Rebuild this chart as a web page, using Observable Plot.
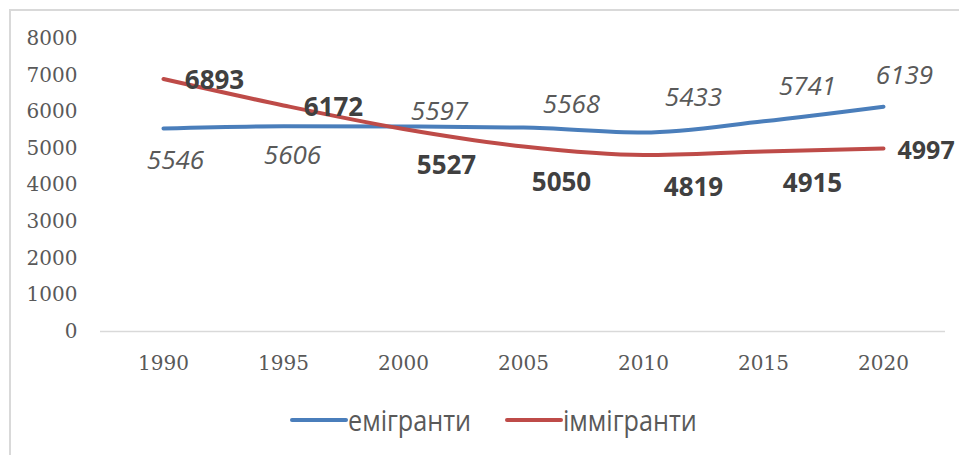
<!DOCTYPE html>
<html><head><meta charset="utf-8">
<script src="https://cdn.jsdelivr.net/npm/d3@7"></script>
<script src="https://cdn.jsdelivr.net/npm/@observablehq/plot@0.6"></script>
<style>
body{margin:0;background:#fff;width:959px;height:455px;overflow:hidden;position:relative}
#frame{position:absolute;left:9px;top:9px;width:2000px;height:2000px;border-left:2px solid #d9d9d9;border-top:2px solid #d9d9d9}
#chart{position:absolute;left:0;top:0}
#legend{position:absolute;top:400px;left:0;width:959px;height:40px}
.item{position:absolute;top:0;height:40px;display:flex;align-items:center}
.item span{font-family:"Open Sans",sans-serif;font-size:30px;color:#595959;display:inline-block;transform:scaleX(0.84);transform-origin:left center;white-space:nowrap;line-height:40px}
</style></head><body>
<div id="frame"></div>
<div id="chart"></div>
<div id="legend"></div>
<script>
const years = [1990, 1995, 2000, 2005, 2010, 2015, 2020];
const emigrants = [5546, 5606, 5597, 5568, 5433, 5741, 6139];
const immigrants = [6893, 6172, 5527, 5050, 4819, 4915, 4997];
const seriesNames = ["емігранти", "іммігранти"];
const yTicks = [0, 1000, 2000, 3000, 4000, 5000, 6000, 7000, 8000];

// label placement (styling only): [dx, dy, anchor]
const emigrantLabelOffsets = [[12,32],[9,29],[36,-15],[48,-23],[50,-35],[44,-35],[21,-31]];
const immigrantLabelOffsets = [[51,2],[50,2],[43,37],[38,36],[50,33],[49,32],[14,3,"start"]];
const colors = ["#4a7ebb", "#be4b48"];

const rows = [
  ...years.map((y, i) => ({year: y, value: emigrants[i], series: seriesNames[0]})),
  ...years.map((y, i) => ({year: y, value: immigrants[i], series: seriesNames[1]}))
];

const labelMarks = [];
years.forEach((y, i) => {
  const [dx, dy, anchor] = emigrantLabelOffsets[i];
  labelMarks.push(Plot.text([{year: y, value: emigrants[i]}], {
    x: "year", y: "value", text: d => String(d.value), dx, dy,
    textAnchor: anchor || "middle", fontFamily: "Open Sans", fontSize: 26,
    fontStyle: "italic", fill: "#595959"
  }));
});
years.forEach((y, i) => {
  const [dx, dy, anchor] = immigrantLabelOffsets[i];
  labelMarks.push(Plot.text([{year: y, value: immigrants[i]}], {
    x: "year", y: "value", text: d => String(d.value), dx, dy,
    textAnchor: anchor || "middle", fontFamily: "Open Sans", fontSize: i === 6 ? 25 : 26,
    fontWeight: "bold", fill: "#404040"
  }));
});

const chart = Plot.plot({
  width: 959, height: 385,
  marginTop: 38, marginBottom: 54, marginLeft: 100, marginRight: 14,
  style: {color: "#595959", fontFamily: "DejaVu Serif", background: "transparent", overflow: "visible"},
  x: {type: "point", domain: years, padding: 0.5},
  y: {domain: [0, 8000]},
  color: {domain: seriesNames, range: colors},
  marks: [
    Plot.ruleY([0], {stroke: "#d9d9d9", strokeWidth: 1.5}),
    Plot.axisY({ticks: yTicks, tickSize: 0, tickPadding: 23, tickFormat: d => String(d), fontSize: 20, fontFamily: "DejaVu Serif", label: null}),
    Plot.axisX({tickSize: 0, tickPadding: 24, tickFormat: d => String(d), fontSize: 20, fontFamily: "DejaVu Serif", label: null}),
    Plot.line(rows, {x: "year", y: "value", z: "series", stroke: "series", strokeWidth: 4, curve: "monotone-x", strokeLinecap: "round"}),
    ...labelMarks
  ]
});
document.getElementById("chart").appendChild(chart);

// legend
const legend = document.getElementById("legend");
const legendPos = [290, 505];
seriesNames.forEach((name, i) => {
  const item = document.createElement("div");
  item.className = "item";
  item.style.left = legendPos[i] + "px";
  item.innerHTML = `<svg width="58" height="40"><line x1="2" x2="56" y1="20" y2="20" stroke="${colors[i]}" stroke-width="4" stroke-linecap="round"/></svg><span>${name}</span>`;
  legend.appendChild(item);
});
</script>
</body></html>
